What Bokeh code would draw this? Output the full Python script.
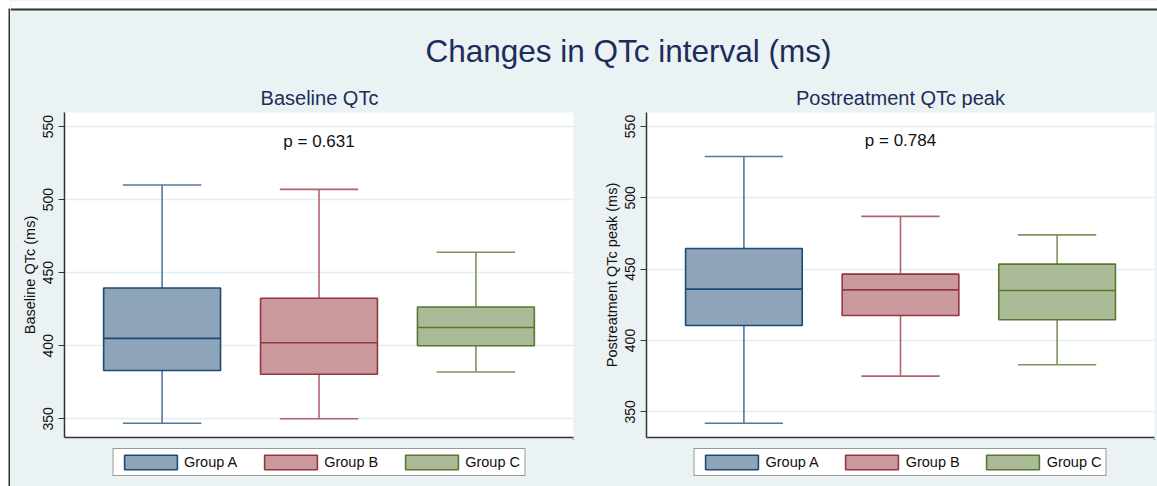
from bokeh.plotting import figure
from bokeh.models import Range1d, FixedTicker, Legend, LegendItem, ColumnDataSource
from bokeh.layouts import row, column
from bokeh.core.properties import value
from bokeh.embed import file_html
from bokeh.resources import INLINE

# ---------------- data ----------------
groups = ["Group A", "Group B", "Group C"]
positions = [1, 2, 3]

base_lower = [347, 350, 382]
base_q1 = [383, 380.5, 400]
base_median = [405, 402, 412.5]
base_q3 = [439.5, 432.5, 426.5]
base_upper = [510, 507, 464]

post_lower = [342, 375, 383]
post_q1 = [410.5, 417.5, 414.5]
post_median = [436, 435.5, 435]
post_q3 = [464.5, 446.5, 453.5]
post_upper = [529, 487, 474]

p_labels = ["p = 0.631", "p = 0.784"]
p_label_y = [540, 540]
y_ticks = [350, 400, 450, 500, 550]

main_title = "Changes in QTc interval (ms)"
panel_titles = ["Baseline QTc", "Postreatment QTc peak"]
y_labels = ["Baseline QTc (ms)", "Postreatment QTc peak (ms)"]

# ---------------- style ----------------
FONT = "Liberation Sans"
BG = "#EAF2F3"
FRAME = "#333333"
TITLE_COLOR = "#1C2D5A"
FILL = ["#8DA4B9", "#C9999D", "#ABBB97"]
LINE = ["#1F4A73", "#93363D", "#58772F"]
WHISK = ["#52779C", "#B1646B", "#7B9659"]
BOX_W = 0.745
CAP_W = 0.5


def panel(width, mbl, mbr, ylo, yhi, ylabel, lower, q1, med, q3, upper, ptxt, py):
    p = figure(width=width, height=331,
               x_range=Range1d(0.378, 3.622), y_range=Range1d(ylo, yhi),
               output_backend="svg", toolbar_location=None,
               min_border_left=mbl, min_border_right=mbr,
               min_border_top=4, min_border_bottom=2,
               background_fill_color="white", border_fill_color=BG,
               outline_line_color=None)
    src = ColumnDataSource(dict(
        x=positions, lower=lower, q1=q1, med=med, q3=q3, upper=upper,
        cl=[x - CAP_W / 2 for x in positions], cr=[x + CAP_W / 2 for x in positions],
        bl=[x - BOX_W / 2 for x in positions], br=[x + BOX_W / 2 for x in positions],
        fill=FILL, line=LINE, whisk=WHISK))
    # whiskers
    p.segment(x0="x", y0="q3", x1="x", y1="upper", line_color="whisk", line_width=1.6, source=src)
    p.segment(x0="x", y0="q1", x1="x", y1="lower", line_color="whisk", line_width=1.6, source=src)
    p.segment(x0="cl", y0="upper", x1="cr", y1="upper", line_color="whisk", line_width=1.6, source=src)
    p.segment(x0="cl", y0="lower", x1="cr", y1="lower", line_color="whisk", line_width=1.6, source=src)
    # boxes
    p.vbar(x="x", width=BOX_W, bottom="q1", top="q3", fill_color="fill",
           line_color="line", line_width=1.6, source=src)
    p.segment(x0="bl", y0="med", x1="br", y1="med", line_color="line", line_width=1.6, source=src)
    # p value
    p.text(x=[2], y=[py], text=[ptxt], text_font=value(FONT), text_font_size="17px",
           text_align="center", text_baseline="middle", text_color="#111111")

    # axes
    p.xgrid.visible = False
    p.ygrid.ticker = FixedTicker(ticks=y_ticks)
    p.ygrid.grid_line_color = "#E4EDF0"
    p.ygrid.grid_line_width = 1.5

    xa = p.xaxis[0]
    xa.ticker = FixedTicker(ticks=[2])
    xa.major_label_overrides = {2: ""}
    xa.major_label_text_font_size = "0px"
    xa.axis_line_color = FRAME
    xa.axis_line_width = 1.5
    xa.major_tick_line_color = None
    xa.major_tick_out = 0
    xa.major_tick_in = 0
    xa.major_label_standoff = 0
    xa.minor_tick_line_color = None

    ya = p.yaxis[0]
    ya.ticker = FixedTicker(ticks=y_ticks)
    ya.axis_line_color = FRAME
    ya.axis_line_width = 1.5
    ya.major_tick_line_color = FRAME
    ya.major_tick_line_width = 1.2
    ya.major_tick_out = 6
    ya.major_tick_in = 0
    ya.minor_tick_line_color = None
    ya.major_label_orientation = "vertical"
    ya.major_label_text_font = FONT
    ya.major_label_text_font_size = "14px"
    ya.major_label_text_color = "#111111"
    ya.major_label_standoff = 5
    ya.axis_label = ylabel
    ya.axis_label_text_font = FONT
    ya.axis_label_text_font_size = "14.5px"
    ya.axis_label_text_font_style = "normal"
    ya.axis_label_text_color = "#111111"
    ya.axis_label_standoff = 3
    return p


def legend_fig(width, mbl, mbr, q1, q3):
    # legend strip under a panel; the proxy boxes lie outside its (empty) view range
    f = figure(width=width, height=47, x_range=Range1d(-10, -9), y_range=Range1d(0, 1),
               x_axis_type=None, y_axis_type=None, output_backend="svg",
               toolbar_location=None, min_border_left=mbl, min_border_right=mbr,
               min_border_top=0, min_border_bottom=0,
               background_fill_color=BG, border_fill_color=BG, outline_line_color=None)
    items = []
    for i, g in enumerate(groups):
        r = f.vbar(x=[positions[i]], top=[q3[i]], bottom=[q1[i]], width=BOX_W,
                   fill_color=FILL[i], line_color=LINE[i], line_width=1.6)
        items.append(LegendItem(label=g, renderers=[r]))
    leg = Legend(items=items, orientation="horizontal", location="top_center",
                 glyph_width=66, glyph_height=18, label_standoff=1, spacing=20,
                 padding=4, margin=9, label_height=14,
                 border_line_color=FRAME, border_line_width=1,
                 background_fill_color="white", background_fill_alpha=1,
                 label_text_font=FONT, label_text_font_size="14.5px",
                 label_text_color="#111111")
    f.add_layout(leg)
    return f


p1 = panel(580, 54, 17, 337.2, 559.6, y_labels[0],
           base_lower, base_q1, base_median, base_q3, base_upper, p_labels[0], p_label_y[0])
p2 = panel(567, 56, 3, 332.0, 559.8, y_labels[1],
           post_lower, post_q1, post_median, post_q3, post_upper, p_labels[1], p_label_y[1])
l1 = legend_fig(580, 54, 17, base_q1, base_q3)
l2 = legend_fig(567, 56, 3, post_q1, post_q3)

# top strip: white page margin, dark frame line, main title and panel titles
top = figure(width=1147, height=108, x_range=Range1d(10, 1157), y_range=Range1d(108, 0),
             x_axis_type=None, y_axis_type=None, output_backend="svg",
             toolbar_location=None, min_border=0,
             background_fill_color=BG, border_fill_color=BG, outline_line_color=None)
top.quad(left=[10], right=[1157], top=[0], bottom=[8], fill_color="white", line_color=None)
top.quad(left=[10], right=[1157], top=[8], bottom=[10], fill_color=FRAME, line_color=None)
top.text(x=[628], y=[50], text=[main_title], text_font=value(FONT), text_font_size="31.5px",
         text_align="center", text_baseline="middle", text_color=TITLE_COLOR)
top.text(x=[319, 900], y=[97.5, 97.5], text=panel_titles, text_font=value(FONT),
         text_font_size="20px", text_align="center", text_baseline="middle",
         text_color=TITLE_COLOR)

# left strip: white page margin and dark frame line
strip = figure(width=10, height=486, x_range=Range1d(0, 10), y_range=Range1d(486, 0),
               x_axis_type=None, y_axis_type=None, output_backend="svg",
               toolbar_location=None, min_border=0,
               background_fill_color="white", border_fill_color="white",
               outline_line_color=None)
strip.quad(left=[8], right=[10], top=[8], bottom=[486], fill_color=FRAME, line_color=None)

bgstyle = {"background-color": BG}
layout = row(strip,
             column(top,
                    row(p1, p2, styles=bgstyle),
                    row(l1, l2, styles=bgstyle),
                    styles=bgstyle))

open("out.html", "w").write(file_html(layout, INLINE))
